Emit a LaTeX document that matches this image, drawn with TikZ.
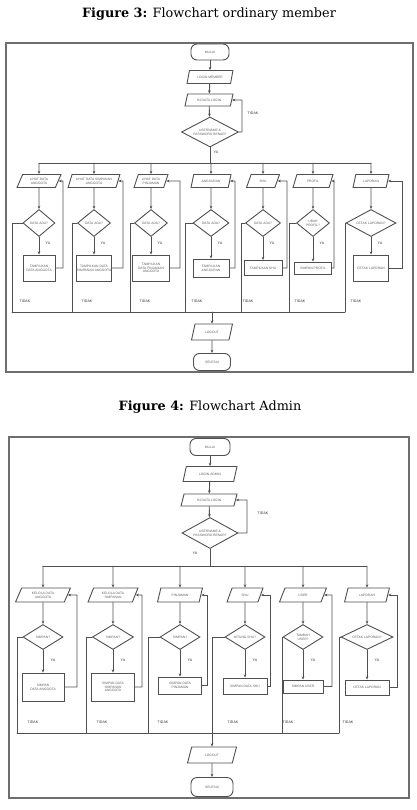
\documentclass[tikz,border=0pt]{standalone}
\usepackage{fontspec}
\setmainfont{DejaVu Serif}
\setsansfont{Liberation Sans}
\usetikzlibrary{arrows.meta,shapes.geometric}
\definecolor{frameline}{RGB}{110,110,110}
\definecolor{boxline}{RGB}{80,80,80}
\definecolor{boxtext}{RGB}{95,95,95}

\tikzset{
  chart/.style={draw=boxline,line width=0.9pt,font=\sffamily\fontsize{3.3}{3.8}\selectfont,text=boxtext,align=center,inner sep=0.5pt},
  term/.style={chart,rectangle,rounded corners=6pt},
  io/.style={chart,trapezium,trapezium left angle=65,trapezium right angle=115,trapezium stretches=true},
  ask/.style={chart,diamond,aspect=2},
  proc/.style={chart,rectangle},
  link/.style={draw=boxline,line width=0.9pt},
  arr/.style={-{Stealth[length=3.2pt,width=2.6pt]}},
  tag/.style={font=\sffamily\fontsize{3.6}{4}\selectfont,text=black!80},
}

\begin{document}
\begin{tikzpicture}[x=1pt,y=-1pt,line cap=round]
  \useasboundingbox (0,0) rectangle (416,810);
  \fill[white] (0,0) rectangle (416,810);

  % ---- figure 3: ordinary member
  \node[font=\fontsize{12.8}{15}\selectfont] (cap3) at (209,14) {\textbf{Figure 3:} Flowchart ordinary member};
  \draw[frameline,line width=1.6pt] (6,43) rectangle (413,372);
  \node[term,minimum width=38,minimum height=16] (mstart) at (210,52) {MULAI};
  \node[io,minimum width=46,minimum height=13] (mlogin) at (210,77) {LOGIN MEMBER};
  \node[io,minimum width=48,minimum height=12] (minput) at (209,100) {ISI DATA LOGIN};
  \node[ask,minimum width=57,minimum height=30] (mcheck) at (210,132) {USERNAME \&\\PASSWORD BENAR?};
  \coordinate (mloop) at (242,100);
  \coordinate (mbus) at (210,163);
  \draw[link,arr] (mstart) -- (mlogin);
  \draw[link,arr] (mlogin) -- (minput);
  \draw[link,arr] (minput) -- (mcheck);
  \draw[link,arr] (mcheck.east) -| (mloop) -- (minput.east);
  \draw[link] (mcheck.south) -- (mbus);
  \node[tag] (mno) at (253,113) {TIDAK};
  \node[tag] (myes) at (216,152) {YA};
  \foreach \i/\x/\pw/\dw/\bw/\bh/\rx/\lx/\tx/\ptext/\dtext/\btext in {
      1/39/44/32/32/26/63/12/25/{LIHAT DATA\\ANGGOTA}/{DATA ADA?}/{TAMPILKAN\\DATA ANGGOTA},
      2/94/52/33/35/26/123/72/87/{LIHAT DATA SIMPANAN\\ANGGOTA}/{DATA ADA?}/{TAMPILKAN DATA\\SIMPANAN ANGGOTA},
      3/151/34/33/37/26/180/130/145/{LIHAT DATA\\PINJAMAN}/{DATA ADA?}/{TAMPILKAN\\DATA PINJAMAN\\ANGGOTA},
      4/211/40/36/36/18/235/185/197/{ANGSURAN}/{DATA ADA?}/{TAMPILKAN\\ANGSURAN},
      5/263/33/35/38/15/287/241/248/{SHU}/{DATA ADA?}/{TAMPILKAN SHU},
      6/313/40/33/37/12/334/289/300/{PROFIL}/{UBAH\\PROFIL?}/{SIMPAN PROFIL},
      7/371/36/50/35/26/402/345/356/{LAPORAN}/{CETAK LAPORAN?}/{CETAK LAPORAN}}{
    \node[io,minimum width=\pw,minimum height=13] (m\i p) at (\x,181) {\ptext};
    \node[ask,minimum width=\dw,minimum height=27] (m\i d) at (\x,223) {\dtext};
    \node[proc,minimum width=\bw,minimum height=\bh] (m\i b) at (\x,268) {\btext};
    \coordinate (m\i r) at (\rx,181);
    \coordinate (m\i l) at (\lx,312);
    \draw[link,arr] (m\i p.north |- mbus) -- (m\i p);
    \draw[link,arr] (m\i p) -- (m\i d);
    \draw[link,arr] (m\i d) -- (m\i b);
    \draw[link,arr] (m\i b.east) -| (m\i r) -- (m\i p.east);
    \draw[link] (m\i d.west) -| (m\i l);
    \node[tag] at (\x+9,243) {YA};
    \node[tag] at (\tx,301) {TIDAK};
  }
  \draw[link] (m1p.north |- mbus) -- (m7p.north |- mbus);
  \draw[link] (m1l) -- (m7l);
  \coordinate (mcol) at (212,312);
  \node[io,minimum width=41,minimum height=16] (mout) at (212,332) {LOGOUT};
  \node[term,minimum width=37,minimum height=17] (mend) at (212,362) {SELESAI};
  \draw[link,arr] (mcol) -- (mout);
  \draw[link,arr] (mout) -- (mend);

  % ---- figure 4: admin
  \node[font=\fontsize{12.8}{15}\selectfont] (cap4) at (210,407) {\textbf{Figure 4:} Flowchart Admin};
  \draw[frameline,line width=1.6pt] (9,437) rectangle (409,798);
  \node[term,minimum width=40,minimum height=17] (astart) at (210,447) {MULAI};
  \node[io,minimum width=54,minimum height=15] (alogin) at (210,474) {LOGIN ADMIN};
  \node[io,minimum width=56,minimum height=12] (ainput) at (209,500) {ISI DATA LOGIN};
  \node[ask,minimum width=56,minimum height=31] (acheck) at (210,533) {USERNAME \&\\PASSWORD BENAR?};
  \coordinate (aloop) at (247,500);
  \coordinate (abus) at (210,566);
  \draw[link,arr] (astart) -- (alogin);
  \draw[link,arr] (alogin) -- (ainput);
  \draw[link,arr] (ainput) -- (acheck);
  \draw[link,arr] (acheck.east) -| (aloop) -- (ainput.east);
  \draw[link] (acheck.south) -- (abus);
  \node[tag] (ano) at (263,513) {TIDAK};
  \node[tag] (ayes) at (195,553) {YA};
  \foreach \i/\x/\pw/\dw/\bw/\by/\bh/\rx/\lx/\tx/\ptext/\dtext/\btext in {
      1/43/55/40/42/687/28/77/17/33/{KELOLA DATA\\ANGGOTA}/{SIMPAN?}/{SIMPAN\\DATA ANGGOTA},
      2/113/50/41/43/687/28/142/86/102/{KELOLA DATA\\SIMPANAN}/{SIMPAN?}/{SIMPAN DATA\\SIMPANAN\\ANGGOTA},
      3/180/45/40/43/685.5/17/207/148/163/{PINJAMAN}/{SIMPAN?}/{SIMPAN DATA\\PINJAMAN},
      4/245/36/40/44/686/16/270/212/233/{SHU}/{HITUNG SHU?}/{SIMPAN DATA SHU},
      5/303/47/40/40/686.5/13/332/282/288/{USER}/{TAMBAH\\USER?}/{SIMPAN USER},
      6/367/45/52/44/687.5/15/397/339/348/{LAPORAN}/{CETAK LAPORAN?}/{CETAK LAPORAN}}{
    \node[io,minimum width=\pw,minimum height=14] (a\i p) at (\x,595) {\ptext};
    \node[ask,minimum width=\dw,minimum height=25] (a\i d) at (\x,637) {\dtext};
    \node[proc,minimum width=\bw,minimum height=\bh] (a\i b) at (\x,\by) {\btext};
    \coordinate (a\i r) at (\rx,595);
    \coordinate (a\i l) at (\lx,733);
    \draw[link,arr] (a\i p.north |- abus) -- (a\i p);
    \draw[link,arr] (a\i p) -- (a\i d);
    \draw[link,arr] (a\i d) -- (a\i b);
    \draw[link,arr] (a\i b.east) -| (a\i r) -- (a\i p.east);
    \draw[link] (a\i d.west) -| (a\i l);
    \node[tag] at (\x+10,660) {YA};
    \node[tag] at (\tx,722) {TIDAK};
  }
  \draw[link] (a1p.north |- abus) -- (a6p.north |- abus);
  \draw[link] (a1l) -- (a6l);
  \coordinate (acol) at (212,733);
  \node[io,minimum width=49,minimum height=16] (aout) at (212,755) {LOGOUT};
  \node[term,minimum width=42,minimum height=19] (aend) at (212,787) {SELESAI};
  \draw[link,arr] (acol) -- (aout);
  \draw[link,arr] (aout) -- (aend);
\end{tikzpicture}
\end{document}
